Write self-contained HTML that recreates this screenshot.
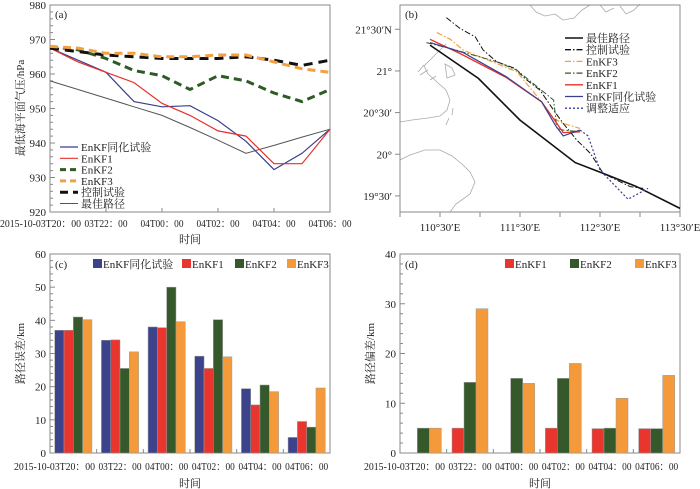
<!DOCTYPE html>
<html><head><meta charset="utf-8">
<style>
html,body{margin:0;padding:0;background:#fff;}
svg{display:block;font-family:"Liberation Serif","Noto Serif CJK SC",serif;}
</style></head>
<body>
<svg id="s" width="700" height="489" viewBox="0 0 700 489" xmlns="http://www.w3.org/2000/svg">
<g id="ga"></g>
<g id="gb"></g>
<g id="gc"></g>
<g id="gd"></g>
</svg>
<script>
// ---- Panel (a) data ----
const timesA = ["2015-10-03T20:00","","03T22:00","","04T00:00","","04T02:00","","04T04:00","","04T06:00"];
const tickLabelsA = ["2015-10-03T20\uff1a00","03T22\uff1a00","04T00\uff1a00","04T02\uff1a00","04T04\uff1a00","04T06\uff1a00"];
const yTicksA = [920,930,940,950,960,970,980];
const seriesNamesA = ["EnKF同化试验","EnKF1","EnKF2","EnKF3","控制试验","最佳路径"];
const assimA = [967.5,964,960.5,952,950.5,950.8,946.5,940.5,932.3,937,944];
const enkf1A = [967.5,963.5,960.5,957.5,951.5,948,943.5,942,934,934,944];
const enkf2A = [968,967,964.5,961,959.5,955.5,959.5,958,954.5,952,955.5];
const enkf3A = [968,967.5,966,966,965,965,965.5,965.5,963.5,961.5,960.5];
const controlA = [967.5,966.5,965.5,965,964.5,964.5,964.5,965,964,962.5,964];
const bestA = [958,955.5,953,950.5,948,944.5,940.8,937,939.3,941.7,944];

// ---- Panel (b) tracks (lon, lat) ----
const bestLon = [110.375,110.98,111.5,112.19,112.54,112.96,113.5];
const bestLat = [21.31,20.91,20.41,19.90,19.77,19.61,19.35];
const ctrlLon = [110.58,110.75,110.94,111.04,111.21,111.44,111.56,111.75,111.92,112.04,112.21,112.38,112.54,112.71,112.88,113.04];
const ctrlLat = [21.64,21.51,21.41,21.25,21.11,21.03,20.91,20.77,20.53,20.37,20.17,20.01,19.77,19.69,19.61,19.59];
const e3Lon = [110.46,110.63,110.79,111.21,111.46,111.77,111.92,112.04,112.25];
const e3Lat = [21.46,21.38,21.25,21.09,20.99,20.63,20.43,20.37,20.31];
const e2Lon = [110.33,110.63,111.21,111.46,111.92,111.94,111.96,112.04,112.27];
const e2Lat = [21.34,21.27,21.11,21.01,20.65,20.49,20.31,20.29,20.27];
const e1Lon = [110.375,110.75,111.33,111.77,111.96,112.04,112.25];
const e1Lat = [21.38,21.21,20.92,20.63,20.37,20.26,20.27];
const asLon = [110.375,110.79,111.33,111.77,111.94,112.04,112.25];
const asLat = [21.34,21.22,20.93,20.63,20.35,20.22,20.29];
const adjLon = [112.25,112.35,112.5,112.85,113.10];
const adjLat = [20.29,20.22,19.81,19.46,19.59];
const lonTicks = [110.5,111.5,112.5,113.5];
const lonLabels = ["110°30′E","111°30′E","112°30′E","113°30′E"];
const latTicks = [21.5,21,20.5,20,19.5];
const latLabels = ["21°30′N","21°","20°30′","20°","19°30′"];

// ---- Panel (c) data ----
const categoriesC = ["2015-10-03T20\uff1a00","03T22\uff1a00","04T00\uff1a00","04T02\uff1a00","04T04\uff1a00","04T06\uff1a00"];
const assimC = [37,34,38,29.2,19.4,4.7];
const enkf1C = [37,34.1,37.8,25.5,14.5,9.5];
const enkf2C = [41,25.5,50,40.2,20.5,7.8];
const enkf3C = [40.2,30.5,39.6,29,18.5,19.6];
const yTicksC = [0,10,20,30,40,50,60];

// ---- Panel (d) data ----
const enkf1D = [0,5,0,5,4.9,4.9];
const enkf2D = [5,14.2,15,15,5,4.9];
const enkf3D = [5,29,14,18,11,15.6];
const yTicksD = [0,10,20,30,40];

const NS="http://www.w3.org/2000/svg";
function mk(tag,attrs,parent,text){const e=document.createElementNS(NS,tag);for(const k in attrs)e.setAttribute(k,attrs[k]);if(text!==undefined)e.textContent=text;parent.appendChild(e);return e;}
const AX="#888";
function xlabel(g,i,cx,yy,s,firstEnd){
 const attrs={y:yy,'font-size':11,fill:'#222',lengthAdjust:'spacingAndGlyphs'};
 if(i===0){attrs.x=firstEnd;attrs['text-anchor']='end';attrs.textLength=81;}
 else{attrs.x=cx;attrs['text-anchor']='middle';attrs.textLength=43;}
 const t=mk('text',attrs,g,s);
 
 
}

// ===== Panel A =====
(function(){
const g=document.getElementById('ga');
const L=50,R=330,T=5,B=212;
const x=i=>L+i*(R-L)/(timesA.length-1);
const y=v=>B-(v-920)/60*(B-T);
let f=mk('rect',{x:L,y:T,width:R-L,height:B-T,fill:'none',stroke:AX,'stroke-width':1},g);


for(let v=920;v<=980;v+=2){const yy=y(v);const len=(v%10===0)?5:3;
 const t=mk('line',{x1:L,x2:L+len,y1:yy,y2:yy,stroke:AX},g);
 
 }
yTicksA.forEach(v=>{const t=mk('text',{x:L-4,y:y(v)+4,'text-anchor':'end','font-size':11,fill:'#222'},g,v);
 
 });
tickLabelsA.forEach((s,i)=>{const xx=x(i*2);
 const tk=mk('line',{x1:xx,x2:xx,y1:B,y2:B-4,stroke:AX},g);
 
 
 xlabel(g,i,xx,B+15,s,81);});
let tt=mk('text',{x:190,y:243,'text-anchor':'middle','font-size':11,fill:'#222'},g,'时间');


tt=mk('text',{x:0,y:0,'text-anchor':'middle','font-size':11,fill:'#222',transform:'translate(24,108) rotate(-90)'},g,'最低海平面气压/hPa');


tt=mk('text',{x:55,y:18,'font-size':11,fill:'#222'},g,'(a)');


const styles=[
 {d:bestA,c:'#555',w:1,da:'',n:'line-best-track'},
 {d:assimA,c:'#3a3f8f',w:1.2,da:'',n:'line-enkf-assim'},
 {d:enkf1A,c:'#e8302a',w:1.2,da:'',n:'line-enkf1'},
 {d:enkf2A,c:'#2e5a23',w:3,da:'8,5',n:'line-enkf2'},
 {d:controlA,c:'#111',w:3,da:'9,6',n:'line-control'},
 {d:enkf3A,c:'#f4a040',w:3,da:'8,5',n:'line-enkf3'}];
styles.forEach(s=>{const p=s.d.map((v,i)=>(i?'L':'M')+x(i).toFixed(1)+','+y(v).toFixed(1)).join('');
 const e=mk('path',{d:p,fill:'none',stroke:s.c,'stroke-width':s.w,'stroke-dasharray':s.da},g);
 
 });
const leg=[['#3a3f8f',1.2,''],['#e8302a',1.2,''],['#2e5a23',3,'6,4'],['#f4a040',3,'6,4'],['#111',3,'8,5'],['#555',1,'']];
seriesNamesA.forEach((n,i)=>{const yy=147+i*11.3;
 const l=mk('line',{x1:60,x2:78,y1:yy,y2:yy,stroke:leg[i][0],'stroke-width':leg[i][1],'stroke-dasharray':leg[i][2]},g);
 
 
 const t=mk('text',{x:81,y:yy+4,'font-size':11,fill:'#222'},g,n);
 
 });
})();

// ===== Panel B =====
(function(){
const g=document.getElementById('gb');
const L=400,R=680,T=5,B=212;
const x=lon=>L+(lon-110)*80;
const y=lat=>29.3+(21.5-lat)*83.3;
const coast=["M400,122 L412,120 L428,118 L440,116 L447,110 L450,100 L446,90 L437,82 L428,74 L424,66 L432,58 L440,50 L446,44",
"M420,75 L428,70 M424,65 L418,72 M430,80 L436,76",
"M453,108 L452,115 M446,125 L449,118",
"M400,160 L410,155 L425,150 L440,150 L452,156 L462,164 L470,172 L475,182 L470,194 L456,204 L450,212",
"M530,5 L536,12 L545,16 L555,14 L563,20 L574,18 L582,10 L590,5",
"M600,5 L606,12 L614,8 M620,6 L626,14 L634,10 L640,4",
"M445,64 L452,68 L455,75 L447,78 Z"];
coast.forEach(d=>{const e=mk('path',{d:d,fill:'none',stroke:'#aaa','stroke-width':0.8},g);
 
 });
let f=mk('rect',{x:L,y:T,width:R-L,height:B-T,fill:'none',stroke:AX},g);


for(let lon=110;lon<=113.5;lon+=0.5){const e=mk('line',{x1:x(lon),x2:x(lon),y1:B,y2:B+5,stroke:AX},g);
 
 }
lonTicks.forEach((v,i)=>{const t=mk('text',{x:x(v),y:B+19,'text-anchor':'middle','font-size':11,fill:'#222'},g,lonLabels[i]);
 
 });
latTicks.forEach((v,i)=>{const e=mk('line',{x1:L-5,x2:L,y1:y(v),y2:y(v),stroke:AX},g);
 
 
 const t=mk('text',{x:L-8,y:y(v)+4,'text-anchor':'end','font-size':11,fill:'#222'},g,latLabels[i]);
 
 });
let tt=mk('text',{x:405,y:18,'font-size':11,fill:'#222'},g,'(b)');


const tr=[
 [bestLon,bestLat,'#111',1.6,'','track-best'],
 [ctrlLon,ctrlLat,'#111',1,'6,2,1.5,2','track-control'],
 [e3Lon,e3Lat,'#f4a040',1.2,'6,2,1.5,2','track-enkf3'],
 [e2Lon,e2Lat,'#2e5a23',1,'6,2,1.5,2','track-enkf2'],
 [e1Lon,e1Lat,'#e8302a',1.3,'','track-enkf1'],
 [asLon,asLat,'#3a3f8f',1.2,'','track-enkf-assim'],
 [adjLon,adjLat,'#3a3f8f',1.2,'2,2','track-adjustment']];
tr.forEach(s=>{const p=s[0].map((v,i)=>(i?'L':'M')+x(v).toFixed(1)+','+y(s[1][i]).toFixed(1)).join('');
 const e=mk('path',{d:p,fill:'none',stroke:s[2],'stroke-width':s[3],'stroke-dasharray':s[4]},g);
 
 });
const names=['最佳路径','控制试验','EnKF3','EnKF2','EnKF1','EnKF同化试验','调整适应'];
names.forEach((n,i)=>{const yy=38+i*11.7;const s=tr[i];
 const l=mk('line',{x1:565,x2:583,y1:yy,y2:yy,stroke:s[2],'stroke-width':Math.max(s[3],1.3),'stroke-dasharray':s[4]},g);
 
 
 const t=mk('text',{x:586,y:yy+4,'font-size':11,fill:'#222'},g,n);
 
 });
})();

// ===== Bar panels =====
function bars(gid,L,R,T,B,ymax,yticks,minorStep,series,colors,names,legX,label,ytitle){
const g=document.getElementById(gid);
const y=v=>B-v/ymax*(B-T);
const gw=(R-L)/categoriesC.length;
let f=mk('rect',{x:L,y:T,width:R-L,height:B-T,fill:'none',stroke:AX},g);


for(let v=0;v<=ymax;v+=minorStep){const len=(v%10===0)?5:3;
 const e=mk('line',{x1:L,x2:L+len,y1:y(v),y2:y(v),stroke:AX},g);
 
 }
yticks.forEach(v=>{const t=mk('text',{x:L-4,y:y(v)+4,'text-anchor':'end','font-size':11,fill:'#222'},g,v);
 
 });
for(let i=1;i<categoriesC.length;i++){const e=mk('line',{x1:L+i*gw,x2:L+i*gw,y1:B,y2:B-4,stroke:AX},g);
 
 }
const bw=series.length===4?9.3:12;
categoriesC.forEach((c,i)=>{const cx=L+gw*(i+0.5);
 xlabel(g,i,cx,B+17,c,L+45);
 const n=series.length;const x0=cx-n*bw/2;
 series.forEach((s,k)=>{const v=s[i];if(v<=0)return;
  const r=mk('rect',{x:x0+k*bw,y:y(v),width:bw,height:B-y(v),fill:colors[k],stroke:'#999','stroke-width':0.5},g);
  
  });});
let tt=mk('text',{x:(L+R)/2,y:B+34,'text-anchor':'middle','font-size':11,fill:'#222'},g,'时间');


tt=mk('text',{x:0,y:0,'text-anchor':'middle','font-size':11,fill:'#222',transform:'translate('+(L-26)+','+((T+B)/2)+') rotate(-90)'},g,ytitle);


tt=mk('text',{x:L+5,y:T+14,'font-size':11,fill:'#222'},g,label);


names.forEach((n,k)=>{const r=mk('rect',{x:legX[k],y:T+5,width:9,height:9,fill:colors[k]},g);
 
 
 const t=mk('text',{x:legX[k]+10,y:T+14,'font-size':11,fill:'#222'},g,n);
 
 });
}
bars('gc',50,330,254,453,60,yTicksC,2,[assimC,enkf1C,enkf2C,enkf3C],['#3d438a','#e8362f','#35592a','#f59a3a'],['EnKF同化试验','EnKF1','EnKF2','EnKF3'],[93,182,235,287],'(c)','路径误差/km');
bars('gd',400,680,254,453,40,yTicksD,2,[enkf1D,enkf2D,enkf3D],['#e8362f','#35592a','#f59a3a'],['EnKF1','EnKF2','EnKF3'],[505,570,635],'(d)','路径偏差/km');
</script>
</body></html>
